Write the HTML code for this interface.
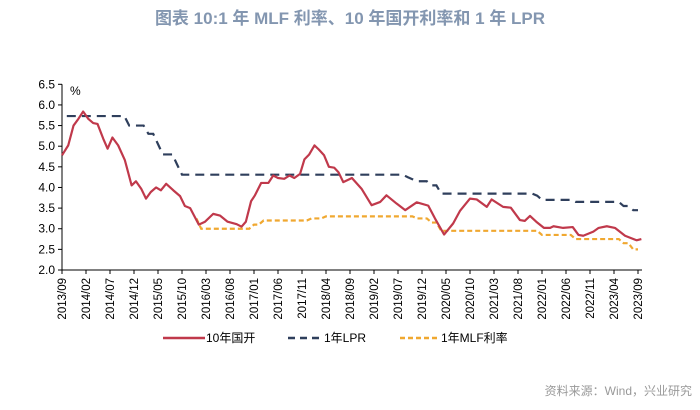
<!DOCTYPE html>
<html><head><meta charset="utf-8"><style>
body{margin:0;background:#fff;width:700px;height:405px;overflow:hidden;font-family:"Liberation Sans","Noto Sans CJK SC",sans-serif}
</style></head><body>
<svg id="c" width="700" height="405" xmlns="http://www.w3.org/2000/svg">
<text x="350" y="24" text-anchor="middle" font-size="17" font-weight="bold" fill="#8396b0" font-family="Liberation Sans,Noto Sans CJK SC,sans-serif">图表 10:1 年 MLF 利率、10 年国开利率和 1 年 LPR</text>
<text x="692" y="395" text-anchor="end" font-size="12" fill="#999" font-family="Liberation Sans,Noto Sans CJK SC,sans-serif">资料来源：Wind，兴业研究</text>
<text x="70" y="95" font-size="12" fill="#000">%</text>
<g id="axes"></g><g id="series"></g>
<g font-size="12" font-family="Liberation Sans,Noto Sans CJK SC,sans-serif">
<line x1="163" y1="338" x2="205" y2="338" stroke="#c0394b" stroke-width="2.5"/>
<text x="206" y="342">10年国开</text>
<line x1="288" y1="338" x2="323" y2="338" stroke="#2f3f5c" stroke-width="2.5" stroke-dasharray="7,5"/>
<text x="324" y="342">1年LPR</text>
<line x1="400" y1="338" x2="440" y2="338" stroke="#f0a830" stroke-width="2.5" stroke-dasharray="5,3"/>
<text x="441" y="342">1年MLF利率</text>
</g>
</svg>
<script>
const yTicks=[2.0,2.5,3.0,3.5,4.0,4.5,5.0,5.5,6.0,6.5];
const xLabels=["2013/09","2014/02","2014/07","2014/12","2015/05","2015/10","2016/03","2016/08","2017/01","2017/06","2017/11","2018/04","2018/09","2019/02","2019/07","2019/12","2020/05","2020/10","2021/03","2021/08","2022/01","2022/06","2022/11","2023/04","2023/09"];
const cdbMonths=[0,1.3,2.4,3.4,4.4,5.5,6.5,7.4,8.6,9.5,10.5,11.7,13.1,14.5,15.4,16.5,17.5,18.5,19.6,20.6,21.7,23.2,24.6,25.6,26.7,28.5,29.8,31.5,32.9,34.5,36.4,37.4,38.3,39.4,40.2,41.5,43,44,45,46.3,47.4,48.4,49.6,50.5,51.5,52.6,53.5,54.6,55.6,56.7,57.6,58.6,60.4,62.4,64.5,66.3,67.6,69.7,71.5,73.9,76.3,77.7,79.6,81.5,82.9,85,86.4,88.5,89.5,91.9,93.5,95.4,96.4,97.5,98.8,100.4,101.7,102.4,104.4,106.4,107.6,108.6,110.7,111.8,113.5,115.2,117.3,119.7,120.7];
const cdbValues=[4.78,5.02,5.50,5.66,5.84,5.66,5.56,5.54,5.18,4.94,5.21,5.02,4.66,4.05,4.15,3.97,3.73,3.89,4.0,3.93,4.09,3.93,3.79,3.55,3.50,3.10,3.17,3.36,3.32,3.17,3.11,3.05,3.17,3.67,3.81,4.11,4.11,4.29,4.23,4.21,4.29,4.23,4.33,4.68,4.80,5.02,4.92,4.78,4.50,4.48,4.37,4.13,4.23,3.97,3.57,3.65,3.81,3.61,3.45,3.64,3.56,3.25,2.86,3.13,3.43,3.73,3.71,3.53,3.71,3.53,3.51,3.21,3.19,3.31,3.17,3.02,3.02,3.06,3.02,3.04,2.85,2.83,2.93,3.02,3.06,3.02,2.83,2.72,2.75];
// monthly step series: [start month, value]; consecutive months joined by straight segments
const lprStarts=[1,14,18,20,21,24,25,71,72,73,74,77,79,99,100,107,117,119];
const lprValues=[5.73,5.50,5.30,5.05,4.80,4.55,4.31,4.31,4.25,4.20,4.15,4.05,3.85,3.80,3.70,3.65,3.55,3.45];
const mlfStarts=[28,29,40,42,52,55,74,77,79,100,107,117,119];
const mlfValues=[3.25,3.0,3.1,3.2,3.25,3.3,3.25,3.15,2.95,2.85,2.75,2.65,2.5];
const NS="http://www.w3.org/2000/svg";
const X0=62,X1=638,Y0=270,Y1=84.3,MMAX=120,END=120;
function xs(m){return X0+(X1-X0)*m/MMAX;}
function ys(v){return Y0-(Y0-Y1)*(v-2)/4.5;}
function mk(t,a,p){const e=document.createElementNS(NS,t);for(const k in a)e.setAttribute(k,a[k]);p.appendChild(e);return e;}
const ax=document.getElementById('axes'),se=document.getElementById('series');
let l=mk('line',{x1:X0,y1:Y1,x2:X0,y2:Y0,stroke:'#000','stroke-width':1},ax);


l=mk('line',{x1:X0,y1:Y0,x2:X1+4,y2:Y0,stroke:'#000','stroke-width':1},ax);


yTicks.forEach(v=>{const y=ys(v);
 mk('line',{x1:X0-4,y1:y,x2:X0,y2:y,stroke:'#000'},ax);
 const t=mk('text',{x:X0-7,y:y+4,'text-anchor':'end','font-size':12},ax);t.textContent=v.toFixed(1);
 
 });
xLabels.forEach((s,i)=>{const x=xs(i*5);
 mk('line',{x1:x,y1:Y0,x2:x,y2:Y0+4,stroke:'#000'},ax);
 const t=mk('text',{x:0,y:0,transform:`translate(${x+4},${Y0+8}) rotate(-90)`,'text-anchor':'end','font-size':11.5},ax);t.textContent=s;
 
 });
function stepPts(st,vals){let p=[];for(let i=0;i<st.length;i++){const e=i<st.length-1?st[i+1]-1:END;p.push([xs(st[i]),ys(vals[i])]);if(e>st[i])p.push([xs(e),ys(vals[i])]);}return p.map(q=>q.join(',')).join(' ');}
let p=mk('polyline',{points:stepPts(mlfStarts,mlfValues),fill:'none',stroke:'#f0a830','stroke-width':2.2,'stroke-dasharray':'5,3'},se);


p=mk('polyline',{points:stepPts(lprStarts,lprValues),fill:'none',stroke:'#2f3f5c','stroke-width':2.2,'stroke-dasharray':'9,6'},se);


p=mk('polyline',{points:cdbMonths.map((m,i)=>xs(m)+','+ys(cdbValues[i])).join(' '),fill:'none',stroke:'#c0394b','stroke-width':2.2,'stroke-linejoin':'round'},se);


</script>
</body></html>
